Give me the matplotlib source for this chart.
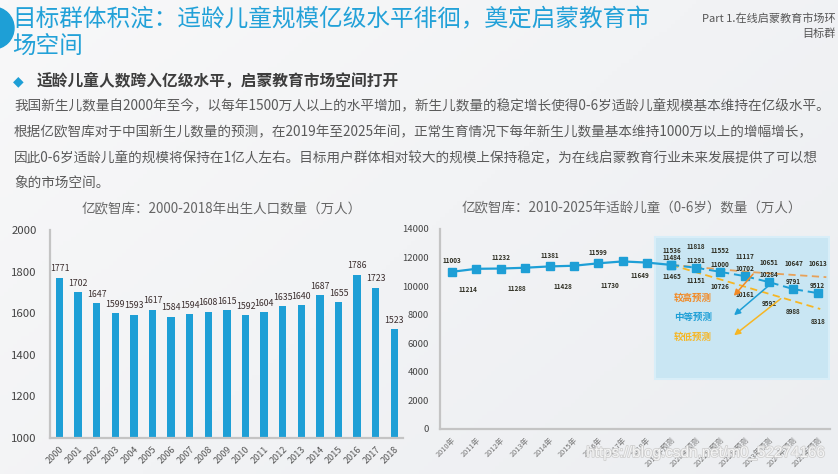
import numpy as np
import matplotlib
matplotlib.use("Agg")
import matplotlib.pyplot as plt
from matplotlib.colors import LinearSegmentedColormap
from matplotlib.patches import Circle, Rectangle
import matplotlib.patheffects as pe

plt.rcParams['font.family'] = ['Noto Sans CJK SC', 'DejaVu Sans']

W, H = 838, 474
BLUE = "#1e9fd6"
ORANGE = "#f28a26"
YELLOW = "#f6b624"

# ---- data ----
birth_years = ["2000", "2001", "2002", "2003", "2004", "2005", "2006", "2007", "2008", "2009",
               "2010", "2011", "2012", "2013", "2014", "2015", "2016", "2017", "2018"]
births = [1771, 1702, 1647, 1599, 1593, 1617, 1584, 1594, 1608, 1615,
          1592, 1604, 1635, 1640, 1687, 1655, 1786, 1723, 1523]

child_years = ["2010年", "2011年", "2012年", "2013年", "2014年", "2015年", "2016年", "2017年", "2018年",
               "2019年预测", "2020年预测", "2021年预测", "2022年预测", "2023年预测", "2024年预测", "2025年预测"]
hist_children = [11003, 11214, 11232, 11288, 11381, 11428, 11599, 11730, 11649]
mid_forecast = [11484, 11291, 11000, 10702, 10284, 9791, 9512]
high_forecast = [11536, 11818, 11552, 11117, 10651, 10647, 10613]
low_forecast = [11465, 11151, 10726, 10161, 9592, 8988, 8318]

# scenario trend lines as drawn on the slide (year index, value)
high_trend_x = [9, 12.3, 15.35]
high_trend = [11484, 10980, 10630]
low_trend_x = [9, 15.1]
low_trend = [11484, 8400]

# label offsets (points) for the historical values: above / below the line
hist_label_dy = [8, -15, 8, -15, 8, -15, 8, -17, -9]
hist_label_dx = [0, -6, 0, -6, 0, -8, 0, -9, -5]

fig = plt.figure(figsize=(W / 100, H / 100), dpi=100)

# ---- slide background and texts (pixel coordinates) ----
bg = fig.add_axes([0, 0, 1, 1])
bg.set_xlim(0, W)
bg.set_ylim(H, 0)
bg.axis("off")
gx, gy = np.meshgrid(np.linspace(0, 1, 200), np.linspace(0, 1, 120))
grad = 0.6 * gx + 0.4 * gy
cmap = LinearSegmentedColormap.from_list("bg", ["#f8f8f9", "#eceef1"])
bg.imshow(grad, extent=(0, W, H, 0), cmap=cmap, aspect="auto", zorder=0)

bg.add_patch(Circle((-7, 28), 21, color=BLUE, zorder=1))
bg.text(12, 20, "目标群体积淀：适龄儿童规模亿级水平徘徊，奠定启蒙教育市", fontsize=17,
        color="#22a1d8", va="center", ha="left")
bg.text(12, 46, "场空间", fontsize=17, color="#22a1d8", va="center", ha="left")
bg.text(836, 19, "Part 1.在线启蒙教育市场环", fontsize=8, color="#555555",
        va="center", ha="right")
bg.text(836, 34, "目标群", fontsize=8, color="#555555", va="center", ha="right")

bg.text(13, 81, "◆", fontsize=10, color=BLUE, va="center", ha="left",
        family=["DejaVu Sans"])
bg.text(37, 81, "适龄儿童人数跨入亿级水平，启蒙教育市场空间打开", fontsize=11.3,
        fontweight="bold", color="#3d3d3d", va="center", ha="left")

body = [
    "我国新生儿数量自2000年至今，以每年1500万人以上的水平增加，新生儿数量的稳定增长使得0-6岁适龄儿童规模基本维持在亿级水平。",
    "根据亿欧智库对于中国新生儿数量的预测，在2019年至2025年间，正常生育情况下每年新生儿数量基本维持1000万以上的增幅增长，",
    "因此0-6岁适龄儿童的规模将保持在1亿人左右。目标用户群体相对较大的规模上保持稳定，为在线启蒙教育行业未来发展提供了可以想",
    "象的市场空间。",
]
for i, line in enumerate(body):
    bg.text(14, 106 + 26 * i, line, fontsize=9.8, color="#5a5a5a", va="center", ha="left")

bg.text(222, 209, "亿欧智库：2000-2018年出生人口数量（万人）", fontsize=9.7,
        color="#666666", va="center", ha="center")
bg.text(632, 208, "亿欧智库：2010-2025年适龄儿童（0-6岁）数量（万人）", fontsize=9.7,
        color="#666666", va="center", ha="center")

# ---- left chart: births ----
ax1 = fig.add_axes([50 / W, 1 - 438 / H, 353 / W, 208 / H])
ax1.set_facecolor("none")
x1 = np.arange(len(births))
ax1.bar(x1, births, width=0.4, color=BLUE, zorder=2)
ax1.set_xlim(-0.51, 18.47)
ax1.set_ylim(1000, 2000)
ax1.set_yticks(np.arange(1000, 2001, 200))
ax1.set_xticks(x1)
ax1.set_xticklabels(birth_years, rotation=45, ha="right", va="top",
                    rotation_mode="anchor", fontsize=6.5, color="#555555")
ax1.tick_params(axis="y", length=0, pad=9.5, labelsize=8.2, labelcolor="#444444")
ax1.tick_params(axis="x", length=0, pad=5)
for s in ["top", "right"]:
    ax1.spines[s].set_visible(False)
for s in ["left", "bottom"]:
    ax1.spines[s].set_color("#c4c4c4")
    ax1.spines[s].set_linewidth(1.6)
for i, v in enumerate(births):
    ax1.annotate(str(v), (i, v), xytext=(0, 3), textcoords="offset points",
                 ha="center", va="bottom", fontsize=6.3, color="#3b2e2e")

# ---- right chart: children 0-6 ----
ax2 = fig.add_axes([440 / W, 1 - 429 / H, 390 / W, 200 / H])
ax2.set_facecolor("none")
ax2.set_xlim(-0.49, 15.5)
ax2.set_ylim(0, 14000)
ax2.set_yticks(np.arange(0, 14001, 2000))
ax2.set_xticks(np.arange(len(child_years)))
ax2.set_xticklabels(child_years, rotation=45, ha="right", va="top",
                    rotation_mode="anchor", fontsize=5.3, color="#777777")
ax2.tick_params(axis="y", length=0, pad=8, labelsize=6.8, labelcolor="#444444")
ax2.tick_params(axis="x", length=0, pad=5)
for s in ["top", "right"]:
    ax2.spines[s].set_visible(False)
for s in ["left", "bottom"]:
    ax2.spines[s].set_color("#c4c4c4")
    ax2.spines[s].set_linewidth(1.6)

ax2.add_patch(Rectangle((8.32, 3500), 7.13, 9930, facecolor="#c9e6f3",
                        edgecolor="#d8eef8", linewidth=1.5, zorder=1))

nh = len(hist_children)
xs_hist = np.arange(nh + 1)
ax2.plot(xs_hist, hist_children + [mid_forecast[0]], color=BLUE, lw=1.6,
         marker="s", ms=6, zorder=4)
xs_fc = np.arange(nh, nh + len(mid_forecast))
ax2.plot(xs_fc, mid_forecast, color=BLUE, lw=1.4, ls=(0, (4, 2.5)),
         marker="s", ms=6, zorder=4)
ax2.plot(high_trend_x, high_trend, color=ORANGE, lw=1.3, ls=(0, (4, 2.5)),
         alpha=0.75, zorder=3)
ax2.plot(low_trend_x, low_trend, color=YELLOW, lw=1.3, ls=(0, (4, 2.5)), zorder=3)

lab_kw = dict(textcoords="offset points", ha="center", va="center",
              fontsize=4.6, color="#2e2e22", fontweight="bold")
for i, v in enumerate(hist_children):
    ax2.annotate(str(v), (i, v), xytext=(hist_label_dx[i], hist_label_dy[i]), **lab_kw)
for i in range(len(mid_forecast)):
    xi = xs_fc[i]
    ax2.annotate(str(high_forecast[i]), (xi, high_forecast[i]), xytext=(0, 10), **lab_kw)
    ax2.annotate(str(mid_forecast[i]), (xi, mid_forecast[i]), xytext=(0, 5.5), **lab_kw)
    ax2.annotate(str(low_forecast[i]), (xi, low_forecast[i]), xytext=(0, -8), **lab_kw)

legend_items = [("较高预测", ORANGE, (12.42, 10990), 9170),
                ("中等预测", BLUE, (13.16, 10290), 7840),
                ("较低预测", YELLOW, (13.57, 9240), 6440)]
for text, col, start, ty in legend_items:
    ax2.text(9.88, ty, text, fontsize=6.8, fontweight="bold", color=col,
             ha="center", va="center", zorder=5)
    ax2.annotate("", xy=(11.48, ty), xytext=start,
                 arrowprops=dict(arrowstyle="-|>", color=col, lw=1.1,
                                 mutation_scale=9), zorder=5)

# watermark
fig.text(705 / W, 1 - 453 / H, "https://blog.csdn.net/m0_52274166", fontsize=11,
         family=["Liberation Sans", "DejaVu Sans"], color="#f4f4f4", ha="center",
         va="center", zorder=10,
         path_effects=[pe.withStroke(linewidth=1.2, foreground="#d0d0d0")])

fig.savefig("out.png", dpi=100)
